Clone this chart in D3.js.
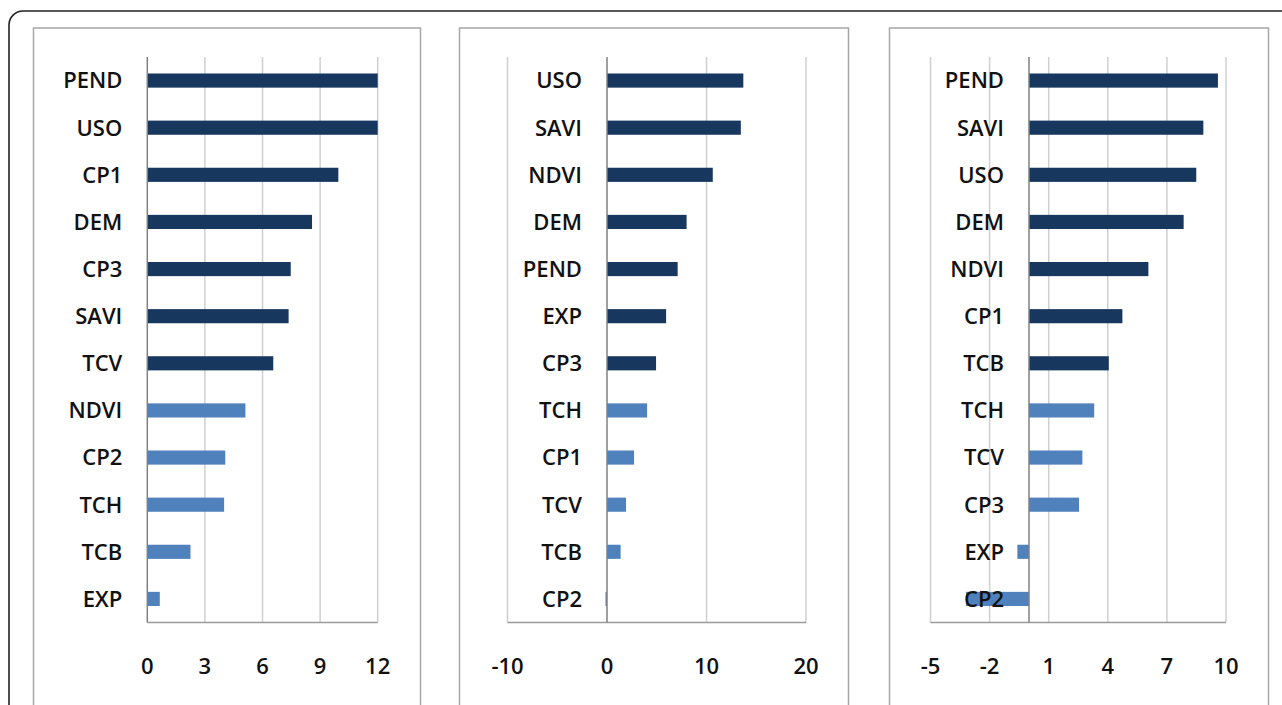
<!DOCTYPE html>
<html>
<head>
<meta charset="utf-8">
<script src="https://cdn.jsdelivr.net/npm/d3@7"></script>
<style>
  body { margin: 0; background: #fff; }
  svg { display: block; }
</style>
</head>
<body>
<script>
// daten: drei panels, je 12 variablen (sortiert wie im bild)
var cats1 = ['PEND','USO','CP1','DEM','CP3','SAVI','TCV','NDVI','CP2','TCH','TCB','EXP'];
var vals1 = [12.0, 12.0, 9.95, 8.58, 7.47, 7.36, 6.56, 5.11, 4.06, 4.0, 2.25, 0.65];

var cats2 = ['USO','SAVI','NDVI','DEM','PEND','EXP','CP3','TCH','CP1','TCV','TCB','CP2'];
var vals2 = [13.7, 13.45, 10.63, 8.0, 7.1, 5.94, 4.93, 4.03, 2.72, 1.91, 1.37, -0.15];

var cats3 = ['PEND','SAVI','USO','DEM','NDVI','CP1','TCB','TCH','TCV','CP3','EXP','CP2'];
var vals3 = [9.59, 8.85, 8.49, 7.85, 6.06, 4.74, 4.05, 3.31, 2.71, 2.54, -0.59, -3.2];

// gruppe: 1 = dunkel, 2 = hell
var gruppe1 = [1,1,1,1,1,1,1,2,2,2,2,2];
var gruppe2 = [1,1,1,1,1,1,1,2,2,2,2,2];
var gruppe3 = [1,1,1,1,1,1,1,2,2,2,2,2];

var ticks1 = [0, 3, 6, 9, 12];
var ticks2 = [-10, 0, 10, 20];
var ticks3 = [-5, -2, 1, 4, 7, 10];

var breite = 1282, hoehe = 705;
var farbe = {1: '#17375E', 2: '#4F81BD'};
var schrift = '"Open Sans", "Liberation Sans", sans-serif';

var svg = d3.select('body').append('svg')
  .attr('width', breite)
  .attr('height', hoehe);

// aeusserer rahmen (laeuft ueber den bildrand hinaus)
svg.append('rect')
  .attr('x', 9).attr('y', 11)
  .attr('width', 1300).attr('height', 760)
  .attr('rx', 14)
  .attr('fill', 'none')
  .attr('stroke', '#222')
  .attr('stroke-width', 1.6);

var panels = [
  {cats: cats1, vals: vals1, gruppe: gruppe1, ticks: ticks1, domain: [0, 12],  box: [33.5, 387], x: [147.3, 377.7]},
  {cats: cats2, vals: vals2, gruppe: gruppe2, ticks: ticks2, domain: [-10, 20], box: [459.5, 389], x: [507.5, 806]},
  {cats: cats3, vals: vals3, gruppe: gruppe3, ticks: ticks3, domain: [-5, 10],  box: [889.5, 379], x: [930.5, 1226]}
];

var oben = 57, unten = 622.5;

panels.forEach(function(p) {
  var g = svg.append('g');

  g.append('rect')
    .attr('x', p.box[0]).attr('y', 28)
    .attr('width', p.box[1]).attr('height', 720)
    .attr('fill', '#fff')
    .attr('stroke', '#a6a6a6')
    .attr('stroke-width', 1.5);

  var x = d3.scaleLinear().domain(p.domain).range(p.x);
  var y = d3.scaleBand().domain(p.cats).range([oben, unten])
    .paddingInner(0.7).paddingOuter(0.35);

  // vertikale gitterlinien
  g.selectAll('line.grid')
    .data(p.ticks.filter(function(t){ return t !== 0; }))
    .enter().append('line')
    .attr('class', 'grid')
    .attr('x1', function(d){ return x(d); })
    .attr('x2', function(d){ return x(d); })
    .attr('y1', oben).attr('y2', unten)
    .attr('stroke', '#cfcfcf')
    .attr('stroke-width', 1.5);

  // untere achsenlinie
  g.append('line')
    .attr('x1', p.x[0]).attr('x2', p.x[1])
    .attr('y1', unten).attr('y2', unten)
    .attr('stroke', '#9a9a9a')
    .attr('stroke-width', 1.5);

  // balken
  g.selectAll('rect.bar')
    .data(p.vals)
    .enter().append('rect')
    .attr('class', 'bar')
    .attr('x', function(d){ return Math.min(x(0), x(d)); })
    .attr('y', function(d, i){ return y(p.cats[i]); })
    .attr('width', function(d){ return Math.max(1, Math.abs(x(d) - x(0))); })
    .attr('height', y.bandwidth())
    .attr('fill', function(d, i){ return farbe[p.gruppe[i]]; });

  // nulllinie
  g.append('line')
    .attr('x1', x(0)).attr('x2', x(0))
    .attr('y1', oben).attr('y2', unten)
    .attr('stroke', '#808080')
    .attr('stroke-width', 1.5);

  // kategorien neben der nullachse
  g.selectAll('text.cat')
    .data(p.cats)
    .enter().append('text')
    .attr('class', 'cat')
    .attr('x', x(0) - 25)
    .attr('y', function(d){ return y(d) + y.bandwidth() / 2; })
    .attr('dy', '0.36em')
    .attr('text-anchor', 'end')
    .attr('font-family', schrift)
    .attr('font-weight', 600)
    .attr('font-size', 22)
    .attr('fill', '#111')
    .text(function(d){ return d; });

  // tick beschriftung
  g.selectAll('text.tick')
    .data(p.ticks)
    .enter().append('text')
    .attr('class', 'tick')
    .attr('x', function(d){ return x(d); })
    .attr('y', 674)
    .attr('text-anchor', 'middle')
    .attr('font-family', schrift)
    .attr('font-weight', 600)
    .attr('font-size', 22)
    .attr('fill', '#111')
    .text(function(d){ return d; });
});
</script>
</body>
</html>
